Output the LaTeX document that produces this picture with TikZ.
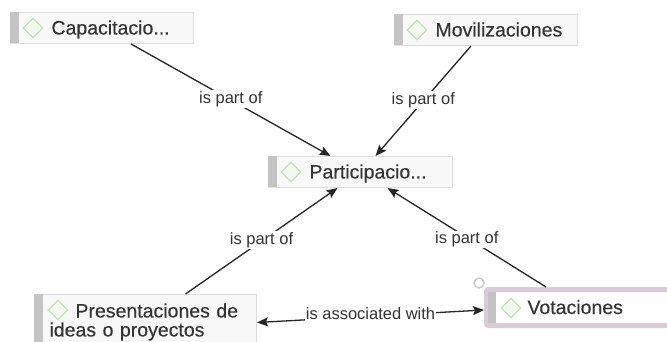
\documentclass[tikz,border=0pt]{standalone}
\usepackage{fontspec}
\setmainfont{Liberation Sans}
\newfontfamily\itemfont[FakeBold=0.25]{Liberation Sans}
\usetikzlibrary{arrows.meta,shapes.geometric}

\definecolor{boxfill}{RGB}{248,248,248}
\definecolor{boxline}{RGB}{222,222,222}
\definecolor{barfill}{RGB}{196,196,196}
\definecolor{iconline}{RGB}{196,224,184}
\definecolor{iconfill}{RGB}{243,249,239}
\definecolor{selline}{RGB}{218,203,216}
\definecolor{inktext}{RGB}{52,52,52}

\newcommand{\iconskip}{\hspace*{26pt}}

\tikzset{
	itembox/.style={draw=boxline, fill=boxfill, line width=1pt, anchor=north west, align=left, inner xsep=15pt, inner ysep=0pt, text=inktext, font=\itemfont\fontsize{19.5}{19}\selectfont, text width=#1-30pt, minimum width=#1, text height=15pt, text depth=2pt},
	itembar/.style={fill=barfill, anchor=north west, inner sep=0pt, minimum width=9pt},
	itemicon/.style={diamond, draw=iconline, fill=iconfill, line width=1.2pt, inner sep=0pt, minimum width=20pt, minimum height=20pt},
	link/.style={line width=1.3pt, color=black!85, -{Stealth[length=11pt,width=9pt,inset=2pt]}},
	linklabel/.style={fill=white, inner xsep=1pt, inner ysep=1pt, yshift=1pt, text=inktext, font=\fontsize{16.5}{16}\selectfont}
}

\begin{document}
\begin{tikzpicture}[x=1pt,y=1pt]

	\clip (0,0) rectangle (667,-342);
	\fill[white] (0,0) rectangle (667,-342);

	% boxes
	\node[itembox=183pt, minimum height=31pt] (capbox) at (10,-12) {\iconskip Capacitacio...};
	\node[itembox=183pt, minimum height=31pt] (movbox) at (394,-14) {\iconskip Movilizaciones};
	\node[itembox=184pt, minimum height=31pt] (partbox) at (268,-156) {\iconskip Participacio...};
	\node[itembox=222pt, minimum height=52pt, text depth=21pt] (presbox) at (34,-294) {\iconskip Presentaciones de\\ideas o proyectos};
	\node[itembox=183pt, minimum height=36pt, draw=selline, line width=5pt, rounded corners=2pt, fill=white] (votbox) at (484,-287) {\iconskip Votaciones};

	% side bars
	\node[itembar, minimum height=31pt] (capbar) at (capbox.north west) {};
	\node[itembar, minimum height=31pt] (movbar) at (movbox.north west) {};
	\node[itembar, minimum height=31pt] (partbar) at (partbox.north west) {};
	\node[itembar, minimum height=52pt] (presbar) at (presbox.north west) {};
	\node[itembar, minimum height=31pt, minimum width=8pt] (votbar) at ([shift={(4,-5)}]votbox.north west) {};

	% icons
	\node[itemicon] (capicon) at ([shift={(23,-16)}]capbox.north west) {};
	\node[itemicon] (movicon) at ([shift={(23,-16)}]movbox.north west) {};
	\node[itemicon] (particon) at ([shift={(23,-16)}]partbox.north west) {};
	\node[itemicon] (presicon) at ([shift={(24,-16)}]presbox.north west) {};
	\node[itemicon] (voticon) at ([shift={(27,-21)}]votbox.north west) {};

	% small handle
	\node[circle, draw=black!20, line width=1.5pt, inner sep=0pt, minimum size=10pt] (vothandle) at (479,-283) {};

	% links
	\draw[link] ([xshift=29pt]capbox.south) -- node[linklabel] (caplabel) {is part of} ([xshift=-30pt]partbox.north);
	\draw[link] ([xshift=-15pt]movbox.south) -- node[linklabel] (movlabel) {is part of} ([xshift=15pt]partbox.north);
	\draw[link] ([xshift=40pt]presbox.north) -- node[linklabel] (preslabel) {is part of} ([xshift=-23pt]partbox.south);
	\draw[link] ([xshift=-32pt]votbox.north) -- node[linklabel, yshift=-3pt] (votlabel) {is part of} ([xshift=27pt]partbox.south);
	\draw[link, {Stealth[length=11pt,width=9pt,inset=2pt]}-{Stealth[length=11pt,width=9pt,inset=2pt]}] ([yshift=-2pt]presbox.east) -- node[linklabel, yshift=2pt, inner ysep=3pt] (assoclabel) {is associated with} ([yshift=-2.5pt]votbox.west);

\end{tikzpicture}
\end{document}
